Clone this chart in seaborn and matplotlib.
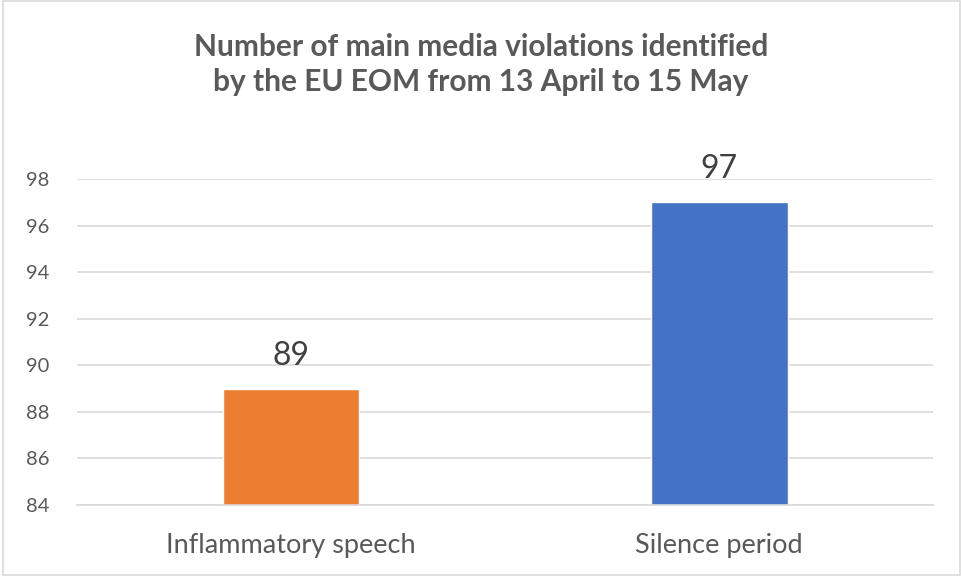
import matplotlib
matplotlib.use("Agg")
import matplotlib.pyplot as plt
import seaborn as sns
import pandas as pd
from matplotlib.patches import Rectangle

categories = ["Inflammatory speech", "Silence period"]
values = [89, 97]
colors = ["#ED7D31", "#4472C4"]
yticks = [84, 86, 88, 90, 92, 94, 96, 98]

sns.set_theme(style="white")
plt.rcParams["font.family"] = ["Lato", "DejaVu Sans"]

df = pd.DataFrame({"category": categories, "value": values})

fig = plt.figure(figsize=(9.62, 5.76), dpi=100)
ax = fig.add_axes([0.080, 0.1233, 0.890, 0.5659])

sns.barplot(data=df, x="category", y="value", hue="category",
            palette=colors, width=0.32, legend=False, ax=ax, saturation=1)

ax.set_ylim(84, 98)
ax.set_xlim(-0.5, 1.5)
ax.set_yticks(yticks)
ax.yaxis.grid(True, color="#D9D9D9", linewidth=1.2)
ax.set_axisbelow(True)
for s in ["top", "right", "left"]:
    ax.spines[s].set_visible(False)
ax.spines["bottom"].set_color("#D9D9D9")
ax.spines["bottom"].set_linewidth(1.2)
ax.tick_params(axis="y", length=0, labelsize=14.5, labelcolor="#595959", pad=20)
ax.tick_params(axis="x", length=0, labelsize=19.5, labelcolor="#595959", pad=20)
ax.set_xlabel("")
ax.set_ylabel("")

for cont in ax.containers:
    ax.bar_label(cont, fmt="%g", fontsize=23, color="#404040", padding=13)

fig.text(0.5, 0.888, "Number of main media violations identified\nby the EU EOM from 13 April to 15 May",
         ha="center", va="center", fontsize=21.5, fontweight="bold", color="#595959",
         linespacing=1.3)

fig.patches.append(Rectangle((0.003, 0.002), 0.995, 0.996, transform=fig.transFigure,
                             fill=False, edgecolor="#D9D9D9", linewidth=1.2))

fig.savefig("out.png", dpi=100, facecolor="white")
